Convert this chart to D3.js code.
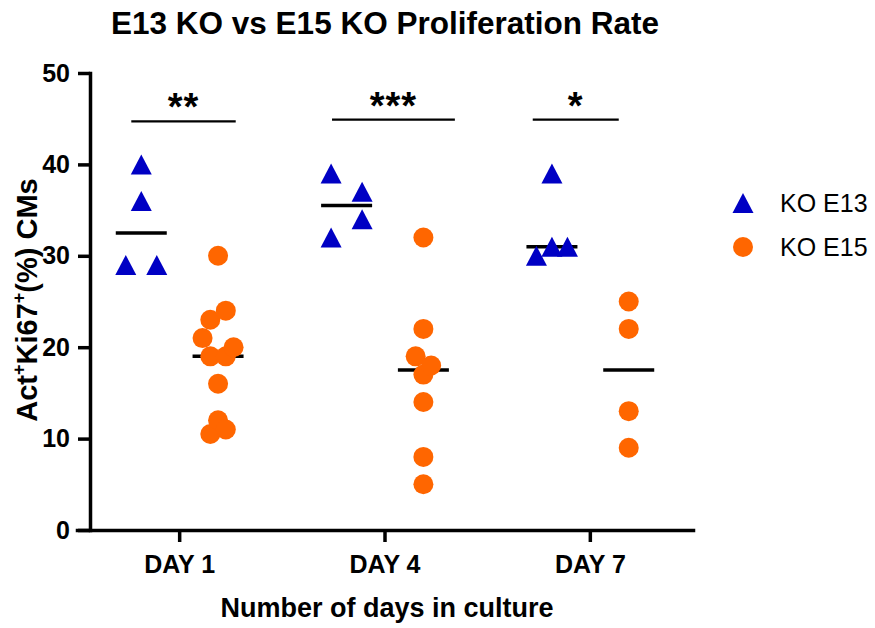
<!DOCTYPE html>
<html>
<head>
<meta charset="utf-8">
<script src="https://cdn.jsdelivr.net/npm/d3@7"></script>
<style>
  body { margin: 0; background: #fff; }
  svg { display: block; font-family: Arial, 'Liberation Sans', sans-serif; }
</style>
</head>
<body>
<svg id="chart" width="875" height="628"></svg>
<script>
const days = ['DAY 1', 'DAY 4', 'DAY 7'];
const series = ['KO E13', 'KO E15'];
const yTicks = [0, 10, 20, 30, 40, 50];

// one list per day, in the order the dots are spread out
const koE13 = [
  [40, 36, 29, 29],
  [39, 37, 32, 34],
  [39, 30, 31, 31]
];
const koE15 = [
  [30, 23, 24, 21, 19, 19, 20, 16, 10.5, 12, 11],
  [32, 22, 19, 17, 18, 14, 8, 5],
  [25, 22, 13, 9]
];

const sigLabels = ['**', '***', '*'];
const sigLevels = [44.7, 44.9, 44.9];
// bar ends, measured in column spacings from the KO E13 column
const sigSpans = [[-0.13, 1.23], [-0.19, 1.41], [-0.25, 0.87]];

const colors = { 'KO E13': '#0000c4', 'KO E15': '#ff6600' };

const svg = d3.select('#chart');

const x = d3.scaleBand().domain(days).range([77, 693]);
const xs = d3.scalePoint().domain(series).range([0, x.bandwidth()]).padding(0.837);
const y = d3.scaleLinear().domain([0, 50]).range([530, 73]);

// triangle centred on its bounding box
const triangle = {
  draw(ctx, size) {
    const h = Math.sqrt(size);
    const w = h * 1.05;
    ctx.moveTo(0, -h / 2);
    ctx.lineTo(w / 2, h / 2);
    ctx.lineTo(-w / 2, h / 2);
    ctx.closePath();
  }
};
const shapes = { 'KO E13': triangle, 'KO E15': d3.symbolCircle };
const sizes = { 'KO E13': 400, 'KO E15': Math.PI * 100 };
const units = { 'KO E13': 15.5, 'KO E15': 7.75 };
const gaps = { 'KO E13': 20, 'KO E15': 19 };

// points close in value share a row and are spread sideways around the column centre
function spread(values, unit, gap) {
  const order = d3.range(values.length)
    .sort((a, b) => d3.descending(values[a], values[b]) || a - b);
  const rows = [];
  order.forEach(i => {
    const row = rows[rows.length - 1];
    if (row && y(values[i]) - y(values[row[0]]) < gap) row.push(i);
    else rows.push([i]);
  });
  const off = new Array(values.length).fill(0);
  rows.forEach(row => {
    row.sort((a, b) => a - b);
    const n = row.length;
    row.forEach((i, k) => {
      let slot = k - (n - 1) / 2;
      if (n % 2 === 0) slot = slot < 0 ? slot - 0.5 : slot + 0.5;
      off[i] = slot * unit;
    });
  });
  return off;
}

const groups = [];
days.forEach((day, d) => {
  [koE13[d], koE15[d]].forEach((vals, s) => {
    const name = series[s];
    const off = spread(vals, units[name], gaps[name]);
    const cx = x(day) + xs(name);
    groups.push({
      name,
      cx,
      median: d3.median(vals),
      points: vals.map((v, i) => ({ v, px: cx + off[i] }))
    });
  });
});

// median lines under the points
svg.append('g')
  .selectAll('line')
  .data(groups)
  .join('line')
  .attr('x1', g => g.cx - 25.5)
  .attr('x2', g => g.cx + 25.5)
  .attr('y1', g => y(g.median))
  .attr('y2', g => y(g.median))
  .attr('stroke', '#000')
  .attr('stroke-width', 3.5);

const pts = svg.append('g');
groups.forEach(g => {
  pts.selectAll(null)
    .data(g.points)
    .join('path')
    .attr('transform', p => `translate(${p.px},${y(p.v)})`)
    .attr('d', d3.symbol(shapes[g.name], sizes[g.name]))
    .attr('fill', colors[g.name]);
});

// axes
const yAxis = svg.append('g')
  .attr('transform', 'translate(90,0)')
  .call(d3.axisLeft(y).tickValues(yTicks).tickSize(12).tickPadding(8).tickSizeOuter(0));

const xAxis = svg.append('g')
  .attr('transform', 'translate(0,530)')
  .call(d3.axisBottom(x).tickSize(12).tickPadding(13).tickSizeOuter(0));

[yAxis, xAxis].forEach(ax => {
  ax.select('.domain').attr('stroke-width', 3.5).attr('stroke-linecap', 'square');
  ax.selectAll('.tick line').attr('stroke-width', 3.5);
  ax.selectAll('.tick text')
    .attr('font-size', 25)
    .attr('font-weight', 'bold')
    .attr('font-family', 'Arial, "Liberation Sans", sans-serif')
    .attr('fill', '#000');
});

// significance bars
const sig = svg.append('g');
days.forEach((day, d) => {
  const c0 = x(day) + xs(series[0]);
  const step = xs(series[1]) - xs(series[0]);
  const x0 = c0 + sigSpans[d][0] * step;
  const x1 = c0 + sigSpans[d][1] * step;
  const yy = y(sigLevels[d]);
  sig.append('line')
    .attr('x1', x0).attr('x2', x1)
    .attr('y1', yy).attr('y2', yy)
    .attr('stroke', '#000')
    .attr('stroke-width', 2.2);
  sig.append('text')
    .attr('x', (x0 + x1) / 2)
    .attr('y', yy - 1)
    .attr('text-anchor', 'middle')
    .attr('font-size', 38)
    .attr('font-weight', 'bold')
    .attr('letter-spacing', 1)
    .text(sigLabels[d]);
});

// titles
svg.append('text')
  .attr('x', 385).attr('y', 34)
  .attr('text-anchor', 'middle')
  .attr('font-size', 31.5)
  .attr('font-weight', 'bold')
  .text('E13 KO vs E15 KO Proliferation Rate');

svg.append('text')
  .attr('x', 387).attr('y', 617)
  .attr('text-anchor', 'middle')
  .attr('font-size', 27)
  .attr('font-weight', 'bold')
  .text('Number of days in culture');

const yTitle = svg.append('text')
  .attr('transform', 'translate(37,300) rotate(-90)')
  .attr('text-anchor', 'middle')
  .attr('font-size', 29)
  .attr('font-weight', 'bold');
yTitle.append('tspan').text('Act');
yTitle.append('tspan').attr('font-size', 18).attr('dy', -12).text('+');
yTitle.append('tspan').attr('dy', 12).text('Ki67');
yTitle.append('tspan').attr('font-size', 18).attr('dy', -12).text('+');
yTitle.append('tspan').attr('dy', 12).text('(%) CMs');

// legend
const legend = svg.append('g')
  .selectAll('g')
  .data(series)
  .join('g')
  .attr('transform', (s, i) => `translate(743,${203 + i * 44})`);
legend.append('path')
  .attr('d', s => d3.symbol(shapes[s], sizes[s])())
  .attr('fill', s => colors[s]);
legend.append('text')
  .attr('x', 37)
  .attr('dy', '0.35em')
  .attr('font-size', 25)
  .text(s => s);
</script>
</body>
</html>
